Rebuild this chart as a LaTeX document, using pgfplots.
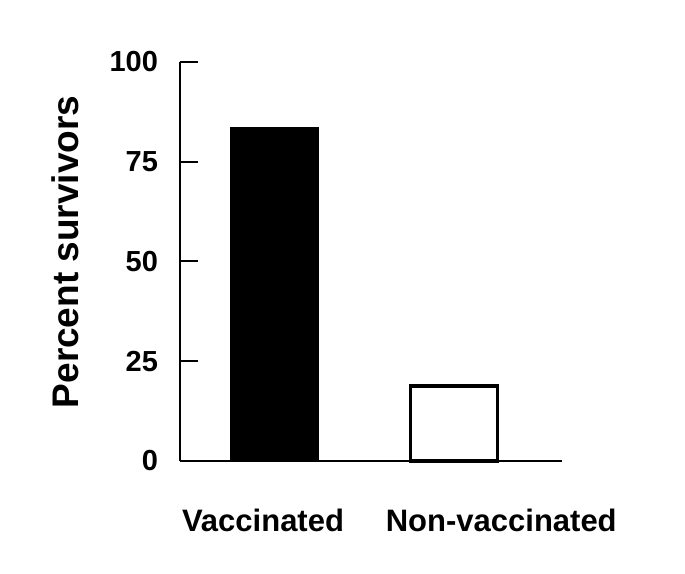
\documentclass[border=0pt]{standalone}
\usepackage{pgfplots}
\pgfplotsset{compat=1.18}
\usepackage{fontspec}
\setmainfont{Liberation Sans}
\begin{document}
\begin{tikzpicture}
\begin{axis}[
  name=ax,
  scale only axis,
  width=191pt, height=199.5pt,
  xmin=-0.526, xmax=1.60,
  ymin=0, ymax=100,
  axis x line=bottom, axis y line=left,
  axis line style={line width=1pt, -},
  ytick={0,25,50,75,100},
  major tick length=9pt,
  ytick style={line width=1pt, black},
  xtick={-0.064,1.262},
  xticklabels={Vaccinated,Non-vaccinated},
  x tick style={draw=none},
  /pgf/number format/assume math mode=true,
  yticklabel style={font=\fontsize{14.5}{16}\selectfont\bfseries, anchor=east, xshift=-7.5pt},
  xticklabel style={font=\fontsize{15.5}{17}\selectfont\bfseries, anchor=base, yshift=-35pt},
  ylabel={Percent survivors},
  ylabel style={font=\fontsize{18.5}{20}\selectfont\bfseries, at={(axis description cs:0,0.524)}, anchor=center, yshift=57.5pt},
  tick align=inside,
  clip=false,
]
\addplot[ybar, bar width=0.485, fill=black, draw=black, line width=1pt] coordinates {(0,83.5)};
\addplot[ybar, bar width=0.485, fill=white, draw=black, line width=1.6pt] coordinates {(1,18.8)};
\end{axis}
\pgfresetboundingbox
\useasboundingbox ([shift={(-90pt,-56pt)}]ax.south west) rectangle ([shift={(252.5pt,230.5pt)}]ax.south west);
\end{tikzpicture}
\end{document}
